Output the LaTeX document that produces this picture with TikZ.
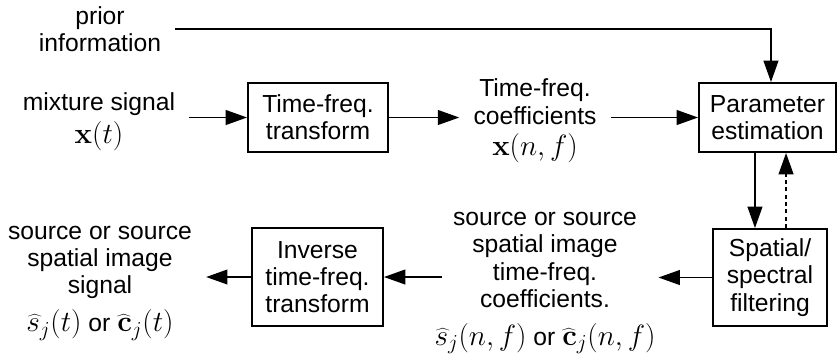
\RequirePackage{fix-cm}
\documentclass[tikz,border=0pt]{standalone}
\usepackage[no-math]{fontspec}
\setmainfont{Liberation Sans}
\DeclareMathSizes{18.5}{22}{16}{12}
\usetikzlibrary{arrows.meta}
\begin{document}
\begin{tikzpicture}[x=0.75pt,y=-0.75pt,
  font=\fontsize{18.5}{20.5}\selectfont,
  box/.style={draw, line width=1.4pt, align=center, inner sep=0pt},
  txt/.style={align=center, inner sep=0pt},
  arr/.style={line width=1.4pt, -{Triangle[length=16pt,width=11pt]}}]
\useasboundingbox (0,0) rectangle (838,355);
% boxes
\node[box, minimum width=105pt, minimum height=51.75pt] (tf) at (318,117.5) {Time-freq.\\transform};
\node[box, minimum width=102.75pt, minimum height=51.75pt] (pe) at (767.5,117.5) {Parameter\\estimation};
\node[box, minimum width=85.5pt, minimum height=72.75pt] (sf) at (770,277.5) {Spatial/\\spectral\\filtering};
\node[box, minimum width=98.25pt, minimum height=73.5pt] (inv) at (317.5,277) {Inverse\\time-freq.\\transform};
% texts
\node[txt] (prior) at (100,29) {prior\\information};
\node[txt] (mix) at (99,122) {mixture signal\\[4pt]$\mathbf{x}(t)$};
\node[txt] (coef) at (535,121) {Time-freq.\\coefficients\\[3pt]$\mathbf{x}(n,f)$};
\node[txt] (out) at (100,283) {source or source\\spatial image\\signal\\[8pt]$\widehat{s}_j(t)$ or $\widehat{\mathbf{c}}_j(t)$};
\node[txt] (mid) at (545,283) {source or source\\spatial image\\time-freq.\\coefficients.\\[8pt]$\widehat{s}_j(n,f)$ or $\widehat{\mathbf{c}}_j(n,f)$};
% connectors
\draw[arr] ([xshift=10.5pt]prior.east) -| ([xshift=2.6pt]pe.north);
\draw[arr] ([xshift=10.5pt]mix.east |- tf.west) -- (tf.west);
\draw[arr] (tf.east) -- ([xshift=-10.5pt]coef.west |- tf.east);
\draw[arr] ([xshift=10.5pt]coef.east |- pe.west) -- (pe.west);
\draw[arr] ([xshift=-9.4pt]pe.south) -- ([xshift=-9.4pt]pe.south |- sf.north);
\draw[arr, dash pattern=on 3pt off 2.5pt] ([xshift=13.9pt]pe.south |- sf.north) -- ([xshift=13.9pt]pe.south);
\draw[arr] (sf.west) -- ([xshift=2pt]mid.east |- sf.west);
\draw[arr] ([xshift=6pt]mid.west |- inv.east) -- (inv.east);
\draw[arr] (inv.west) -- ([xshift=10.5pt]out.east |- inv.west);
\end{tikzpicture}
\end{document}
